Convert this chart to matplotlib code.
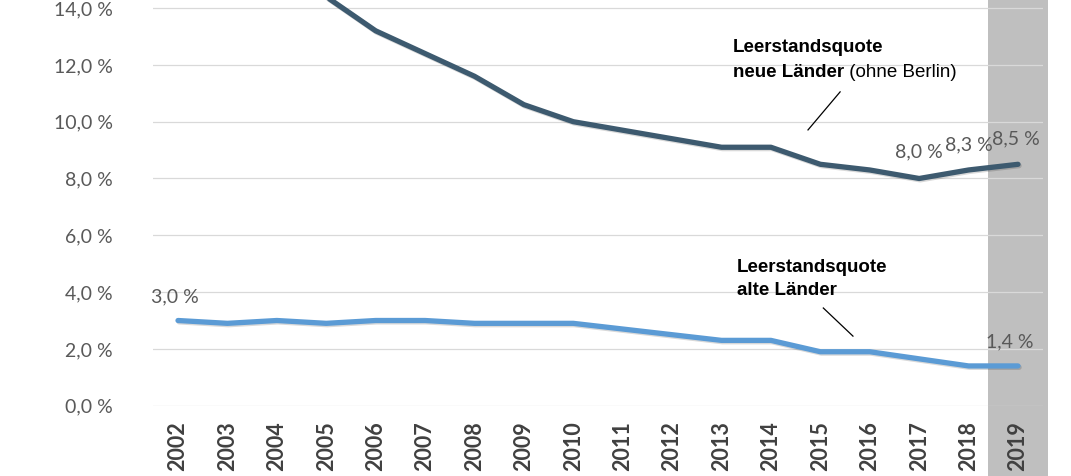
"""
Leerstandsquote alte / neue Laender 2002-2019
"""
import matplotlib
matplotlib.use("Agg")
import matplotlib.pyplot as plt
import matplotlib.patheffects as pe
import numpy as np

years = list(range(2002, 2020))
neue_laender = [16.9, 16.2, 15.4, 14.4, 13.2, 12.4, 11.6, 10.6, 10.0, 9.7,
                9.4, 9.1, 9.1, 8.5, 8.3, 8.0, 8.3, 8.5]
alte_laender = [3.0, 2.9, 3.0, 2.9, 3.0, 3.0, 2.9, 2.9, 2.9, 2.7,
                2.5, 2.3, 2.3, 1.9, 1.9, 1.65, 1.4, 1.4]
yticks = [0, 2, 4, 6, 8, 10, 12, 14]

# which points get a value label: (year index -> offset in points)
labels_neue = {15: (0, 19), 16: (0, 18), 17: (-1.5, 18)}
labels_alte = {0: (-2, 17), 17: (-6, 17)}

DARK = "#3d5a6f"
LIGHT = "#5b9bd5"
TXT = "#595959"


def fmt(v):
    return f"{v:.1f}".replace(".", ",") + " %"


fig = plt.figure(figsize=(10.71, 4.76), dpi=100)
ax = fig.add_axes([153.3 / 1071, 70.3 / 476, (1042.7 - 153.3) / 1071, 405.7 / 476])

x = np.array(years)
ax.set_xlim(years[0] - 0.5, years[-1] + 0.5)
ax.set_ylim(0, 14.285)

# grey band for the latest year
ax.axvspan(2018.4, 2019.6, ymin=-0.18, ymax=1, color="#bfbfbf", lw=0,
           clip_on=False, zorder=0)

for v in yticks:
    ax.axhline(v, color="#d9d9d9", lw=0.9, zorder=1)

shadow = [pe.SimpleLineShadow(offset=(0.8, -1.0), alpha=0.15, shadow_color="black"),
          pe.Normal()]
ax.plot(x, neue_laender, color=DARK, lw=3.8, solid_capstyle="round",
        solid_joinstyle="round", zorder=3, path_effects=shadow)
ax.plot(x, alte_laender, color=LIGHT, lw=3.8, solid_capstyle="round",
        solid_joinstyle="round", zorder=3, path_effects=shadow)

for series, lab in ((neue_laender, labels_neue), (alte_laender, labels_alte)):
    for i, off in lab.items():
        ax.annotate(fmt(series[i]), xy=(x[i], series[i]), xytext=off,
                    textcoords="offset points", ha="center", va="center",
                    fontsize=14, family="Lato", color=TXT, zorder=4)

# axes styling
for s in ax.spines.values():
    s.set_visible(False)
ax.set_yticks(yticks)
ax.set_yticklabels([fmt(v) for v in yticks], family="Lato", fontsize=14, color=TXT)
ax.set_xticks(x)
ax.set_xticklabels([str(y) for y in years], rotation=90, family="Lato",
                   fontsize=15.5, fontweight="bold", color="#404040")
ax.tick_params(axis="y", length=0, pad=29)
ax.tick_params(axis="x", length=0, pad=11)

# series annotations
afont = dict(family="Liberation Sans", fontsize=13.5, color="black")
ax.text(2013.23, 12.63, "Leerstandsquote", fontweight="bold", va="center", **afont)
t = ax.text(2013.23, 11.74, "neue Länder", fontweight="bold", va="center", **afont)
ax.annotate(" (ohne Berlin)", xy=(1, 0), xycoords=t, va="bottom", ha="left", **afont)
ax.plot([2015.40, 2014.75], [11.05, 9.71], color="black", lw=0.9, zorder=4)

ax.text(2013.31, 4.85, "Leerstandsquote", fontweight="bold", va="center", **afont)
ax.text(2013.31, 4.07, "alte Länder", fontweight="bold", va="center", **afont)
ax.plot([2015.06, 2015.66], [3.44, 2.45], color="black", lw=0.9, zorder=4)

fig.savefig("out.png", dpi=100)
